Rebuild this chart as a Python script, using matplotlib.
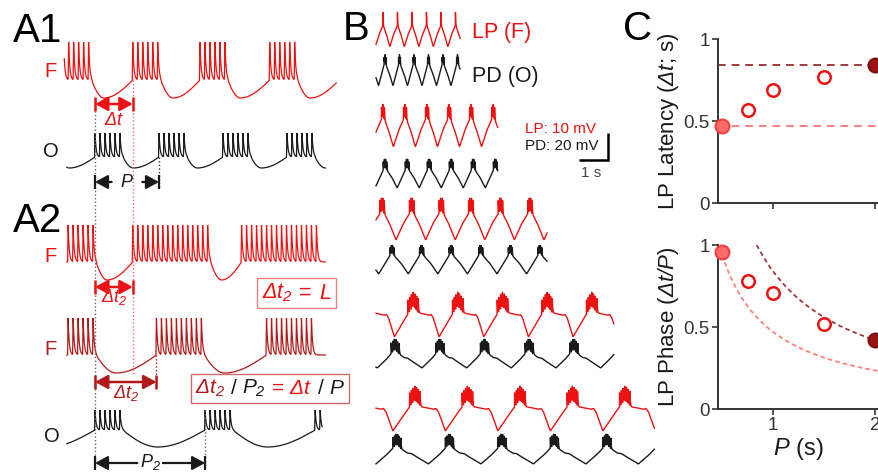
import numpy as np
import matplotlib
matplotlib.use("Agg")
import matplotlib.pyplot as plt
from matplotlib.offsetbox import TextArea, HPacker, AnnotationBbox

# ---------------- data ----------------
# Panel A: schematic bursting traces (seconds, t = 0 at the first O burst of A1)
spike_isi = 0.078
a1_f_onsets = [-0.49, 0.59, 1.64, 2.73, 3.82]
a1_f_counts = [6, 6, 6, 6, 6]
a1_o_onsets = [-1.0, 0.0, 1.0, 2.0, 3.0, 4.0]
a1_o_counts = [6, 6, 6, 6, 6, 6]
a2_f1_onsets = [-0.42, 0.59, 2.29]
a2_f1_counts = [6, 16, 16]
a2_f2_onsets = [-0.42, 0.96, 2.68]
a2_f2_counts = [6, 10, 10]
a2_o_onsets = [-1.72, 0.0, 1.72, 3.44]
a2_o_counts = [6, 6, 6, 2]

# Panel B: LP / PD recordings at five cycle periods (seconds)
b_period = [0.50, 0.76, 1.02, 1.54, 1.81]
b_lp_first = [0.24, 0.24, 0.21, 1.28, 1.34]
b_pd_first = [0.31, 0.31, 0.55, 0.66, 0.72]
b_duration = [2.9, 4.2, 5.9, 8.2, 9.6]
b_lp_spikes = [1, 3, 4, 7, 7]
b_pd_spikes = [3, 4, 4, 6, 6]
b_lp_isi = [0.04, 0.05, 0.05, 0.06, 0.06]
b_pd_isi = [0.03, 0.04, 0.045, 0.055, 0.055]

# one cycle of membrane potential (phase 0 = burst), normalised 0..1
lp_fast_phase = [0.0, 0.06, 0.25, 0.47, 0.72, 1.0]
lp_fast_level = [1.0, 0.90, 0.55, 0.0, 0.55, 1.0]
lp_slow_phase = [0.0, 0.05, 0.12, 0.25, 0.36, 0.40, 0.45, 0.58, 0.80, 1.0]
lp_slow_level = [1.0, 0.92, 0.78, 0.74, 0.70, 0.73, 0.62, 0.0, 0.55, 1.0]
pd_fast_phase = [0.0, 0.08, 0.30, 0.55, 0.78, 1.0]
pd_fast_level = [1.0, 0.82, 0.50, 0.0, 0.50, 1.0]
pd_slow_phase = [0.0, 0.07, 0.20, 0.28, 0.36, 0.48, 0.60, 0.80, 1.0]
pd_slow_level = [1.0, 0.78, 0.55, 0.52, 0.38, 0.20, 0.0, 0.45, 1.0]

# Panel C: LP latency and phase versus period
c_period = [0.5, 0.75, 1.0, 1.5, 2.0]
c_latency = [0.47, 0.57, 0.69, 0.77, 0.84]
c_phase = [0.96, 0.78, 0.71, 0.52, 0.42]

# ---------------- style ----------------
RED = '#ee1111'
DRED = '#b51818'
BLK = '#1a1a1a'
AXC = '#333333'

plt.rcParams['font.family'] = ['Liberation Sans', 'DejaVu Sans']
plt.rcParams['mathtext.fontset'] = 'custom'
plt.rcParams['mathtext.rm'] = 'Liberation Sans:italic'
plt.rcParams['mathtext.it'] = 'Liberation Sans:italic'
plt.rcParams['mathtext.bf'] = 'Liberation Sans:bold'

W, H = 879, 472
fig = plt.figure(figsize=(W / 100, H / 100), dpi=100)


def frac_rect(x0, y0, x1, y1):
    return [x0 / W, 1 - y1 / H, (x1 - x0) / W, (y1 - y0) / H]


def ftext(x, y, s, **kw):
    return fig.text(x / W, 1 - y / H, s, **kw)


def spike_kernel(d, isi):
    rise = 0.1 * isi
    up = np.clip((d + rise) / rise, 0, 1) * (d < 0)
    down = np.exp(-np.clip(d, 0, None) / (0.22 * isi)) * (d >= 0)
    return up + down


def burst_trace(t, onsets, counts, isi, fall):
    """Return (hyperpolarisation well 0..1, spike train 0..1)."""
    well = np.zeros_like(t)
    spk = np.zeros_like(t)
    ends = []
    for on, n in zip(onsets, counts):
        times = on + isi * np.arange(n)
        for s in times:
            spk = np.maximum(spk, spike_kernel(t - s, isi))
        ends.append(times[-1] + 0.5 * isi)
    for e, nxt in zip(ends[:-1], onsets[1:]):
        gap = nxt - e
        m = min(fall / gap, 0.6)
        u = (t - e) / gap
        inside = (u >= 0) & (u <= 1)
        w = np.where(u < m, np.sin(0.5 * np.pi * u / m),
                     np.cos(0.5 * np.pi * (u - m) / (1 - m)))
        well[inside] = w[inside]
    return well, spk


# ================= Panel A =================
A_T0, A_PX = 95.0, 64.0          # pixel column of t=0, pixels per second
axA = fig.add_axes(frac_rect(0, 0, 360, H))
axA.set_xlim(-A_T0 / A_PX, (360 - A_T0) / A_PX)
axA.set_ylim(H, 0)
axA.axis('off')

a_traces = [
    (a1_f_onsets, a1_f_counts, (-0.48, 3.77), (42, 80, 98), 0.20, RED),
    (a1_o_onsets, a1_o_counts, (-0.44, 3.60), (133, 157, 168), 0.17, BLK),
    (a2_f1_onsets, a2_f1_counts, (-0.44, 3.60), (225, 262, 280), 0.18, RED),
    (a2_f2_onsets, a2_f2_counts, (-0.44, 3.60), (318, 355, 373), 0.32, DRED),
    (a2_o_onsets, a2_o_counts, (-0.44, 3.55), (410, 430, 447), 0.55, BLK),
]
for onsets, counts, span, (top, base, trough), fall, col in a_traces:
    t = np.arange(span[0], span[1], 0.001)
    well, spk = burst_trace(t, onsets, counts, spike_isi, fall)
    y = base + (trough - base) * well - (base - top) * spk
    axA.plot(t, y, color=col, lw=0.9, solid_joinstyle='miter')


def dim_arrow(x0, x1, y, color, lw=1.8, bar=7):
    axA.annotate('', xy=(x1, y), xytext=(x0, y),
                 arrowprops=dict(arrowstyle='<|-|>,head_length=0.55,head_width=0.3',
                                 color=color, lw=lw, shrinkA=0, shrinkB=0,
                                 mutation_scale=14))
    axA.vlines([x0, x1], y - bar, y + bar, color=color, lw=lw)


def split_arrow(x0, x1, y, half_gap, color, lw=1.6, bar=7):
    mid = 0.5 * (x0 + x1)
    for xa, xb in ((mid - half_gap, x0), (mid + half_gap, x1)):
        axA.annotate('', xy=(xb, y), xytext=(xa, y),
                     arrowprops=dict(arrowstyle='-|>,head_length=0.55,head_width=0.3',
                                     color=color, lw=lw, shrinkA=0, shrinkB=0,
                                     mutation_scale=14))
    axA.vlines([x0, x1], y - bar, y + bar, color=color, lw=lw)


dots = (0, (1, 1.6))
o_on = a1_o_onsets[1]
# guide lines
axA.vlines(o_on, 100, 467, color='#666666', lw=1.0, linestyles=[dots])
axA.vlines(a1_f_onsets[1], 80, 376, color='#ff6666', lw=1.0, linestyles=[dots])
axA.vlines(a1_o_onsets[2], 157, 188, color='#333333', lw=1.0, linestyles=[dots])
axA.vlines(a2_f2_onsets[1], 355, 383, color=DRED, lw=1.0, linestyles=[dots])
axA.vlines(a2_o_onsets[2], 410, 467, color='#666666', lw=1.0, linestyles=[dots])

# A1 measures
dim_arrow(o_on, a1_f_onsets[1], 104, RED)
axA.text(0.5 * (o_on + a1_f_onsets[1]), 125, r'$Δt$', color=RED, fontsize=13,
         ha='center', va='baseline')
split_arrow(o_on, a1_o_onsets[2], 182, 0.24, BLK)
axA.text(0.5 * (o_on + a1_o_onsets[2]), 187, r'$P$', color=BLK, fontsize=13,
         ha='center', va='baseline')

# A2 measures
dim_arrow(o_on, a2_f1_onsets[1], 287, RED)
axA.text(0.5 * (o_on + a2_f1_onsets[1]), 302, r'$Δt_2$', color=RED, fontsize=13,
         ha='center', va='baseline')
dim_arrow(o_on, a2_f2_onsets[1], 382, DRED)
axA.text(0.5 * (o_on + a2_f2_onsets[1]), 398, r'$Δt_2$', color=DRED, fontsize=13,
         ha='center', va='baseline')
split_arrow(o_on, a2_o_onsets[2], 463, 0.20, BLK)
axA.text(0.5 * (o_on + a2_o_onsets[2]), 467, r'$P_2$', color=BLK, fontsize=13,
         ha='center', va='baseline')


def boxed(parts, xy, edge, size=15.5, sep=5):
    areas = [TextArea(s, textprops=dict(color=c, fontsize=size)) for s, c in parts]
    pack = HPacker(children=areas, align='baseline', pad=0, sep=sep)
    ab = AnnotationBbox(pack, xy, xycoords='data', frameon=True,
                        box_alignment=(0.5, 0.5), pad=0.35,
                        bboxprops=dict(edgecolor=edge, lw=1.0, facecolor='white',
                                       boxstyle='square'))
    axA.add_artist(ab)


boxed([(r'$Δt_2$', RED), ('=', RED), (r'$L$', RED)],
      ((296.5 - A_T0) / A_PX, 293), '#ef8080')
boxed([(r'$Δt_2$', DRED), ('/', BLK), (r'$P_2$', BLK), ('=', RED),
       (r'$Δt$', RED), ('/', BLK), (r'$P$', BLK)],
      ((270 - A_T0) / A_PX, 388.5), '#d06a6a', size=15, sep=4)

# panel A labels
ftext(13, 42, 'A1', fontsize=29, color='black', va='baseline')
ftext(13, 232, 'A2', fontsize=29, color='black', va='baseline')
for x, y, s, c in [(51, 77, 'F', RED), (51, 157, 'O', BLK), (51, 262, 'F', RED),
                   (51, 355, 'F', DRED), (52, 442, 'O', BLK)]:
    ftext(x, y, s, fontsize=14.5, color=c, ha='center', va='baseline')

# ================= Panel B =================
B_X0, B_PX = 376.0, 29.0
axB = fig.add_axes(frac_rect(370, 0, 668, H))
axB.set_xlim((370 - B_X0) / B_PX, (668 - B_X0) / B_PX)
axB.set_ylim(H, 0)
axB.axis('off')

# trace placement: (spike top, wave peak, trough) in figure rows
b_lp_rows = [(12, 25, 47), (104, 116, 147), (197, 210, 240), (292, 306, 337), (386, 400, 431)]
b_pd_rows = [(54, 61, 86), (158, 166, 188), (244, 252, 274), (338, 349, 368), (433, 444, 464)]


def smooth(y, n):
    k = np.ones(n) / n
    return np.convolve(np.pad(y, n, mode='edge'), k, mode='same')[n:-n]


def cell_trace(t, first, period, phases, levels, nspk, isi):
    ph = np.mod((t - first) / period, 1.0)
    wave = smooth(np.interp(ph, phases, levels), 25)
    spk = np.zeros_like(t)
    k0 = int(np.floor((t[0] - first) / period)) - 1
    k1 = int(np.ceil((t[-1] - first) / period)) + 1
    offsets = (np.arange(nspk) - 0.5 * (nspk - 1)) * isi   # burst centred on the peak
    for k in range(k0, k1):
        for off in offsets:
            spk = np.maximum(spk, spike_kernel(t - (first + k * period + off), isi))
    return wave, spk


for i in range(5):
    t = np.arange(0, b_duration[i], 0.001)
    slow = b_period[i] > 1.2
    lp_ph, lp_lv = (lp_slow_phase, lp_slow_level) if slow else (lp_fast_phase, lp_fast_level)
    pd_ph, pd_lv = (pd_slow_phase, pd_slow_level) if slow else (pd_fast_phase, pd_fast_level)
    for first, nspk, (ph, lv), (top, peak, trough), col, isi in [
        (b_lp_first[i], b_lp_spikes[i], (lp_ph, lp_lv), b_lp_rows[i], RED, b_lp_isi[i]),
        (b_pd_first[i], b_pd_spikes[i], (pd_ph, pd_lv), b_pd_rows[i], BLK, b_pd_isi[i]),
    ]:
        wave, spk = cell_trace(t, first, b_period[i], ph, lv, nspk, isi)
        y = trough - (trough - peak) * wave - (peak - top) * spk
        axB.plot(t, y, color=col, lw=1.0)

# scale bar: 1 s horizontal, vertical = 10 mV (LP) / 20 mV (PD)
bar_end = (608 - B_X0) / B_PX
axB.plot([bar_end - 1.0, bar_end, bar_end], [160, 160, 133], color='black', lw=1.8,
         solid_joinstyle='miter', solid_capstyle='butt')
ftext(591, 177, '1 s', fontsize=11, color='#444444', ha='center', va='baseline')
ftext(525, 133, 'LP: 10 mV', fontsize=11, color=RED, va='baseline')
ftext(525, 150, 'PD: 20 mV', fontsize=11, color=BLK, va='baseline')
ftext(472, 38, 'LP (F)', fontsize=15.5, color=RED, va='baseline')
ftext(472, 82, 'PD (O)', fontsize=15.5, color=BLK, va='baseline')
ftext(343, 40, 'B', fontsize=29, color='black', va='baseline')

# ================= Panel C =================
ftext(623, 40, 'C', fontsize=29, color='black', va='baseline')


def style_c(ax):
    for s in ('top', 'right'):
        ax.spines[s].set_visible(False)
    for s in ('left', 'bottom'):
        ax.spines[s].set_color(AXC)
        ax.spines[s].set_linewidth(1.4)
    ax.tick_params(direction='out', length=4, width=1.2, color=AXC,
                   labelcolor=AXC, labelsize=13.5, pad=2)
    ax.set_xlim(0.46, 2.04)
    ax.set_ylim(0, 1)
    ax.set_yticks([0, 0.5, 1])
    ax.set_yticklabels(['0', '0.5', '1'])
    ax.set_xticks([1, 2])
    ax.patch.set_alpha(0)


axC1 = fig.add_axes(frac_rect(718, 39, 879, 203))
axC2 = fig.add_axes(frac_rect(718, 245, 879, 409))
style_c(axC1)
style_c(axC2)
axC1.set_xticklabels([])
axC2.set_xticklabels(['1', '2'])

light_line = '#ff7f7f'
dark_line = '#a33a3a'
axC1.axhline(c_latency[0], color=light_line, lw=1.4, ls=(0, (4, 3)), zorder=1)
axC1.axhline(c_latency[-1], color=dark_line, lw=1.4, ls=(0, (4, 3)), zorder=1)

p1 = np.linspace(c_period[0], 2.04, 200)
axC2.plot(p1, c_latency[0] / p1, color=light_line, lw=1.3, ls=(0, (2.5, 1.8)), zorder=1)
p2 = np.linspace(c_latency[-1], 2.04, 200)
axC2.plot(p2, c_latency[-1] / p2, color=dark_line, lw=1.3, ls=(0, (2.5, 1.8)), zorder=1)

for ax, vals in ((axC1, c_latency), (axC2, c_phase)):
    ax.plot(c_period[1:-1], vals[1:-1], 'o', mfc='none', mec=RED, mew=1.8, ms=9,
            zorder=3)
    ax.plot(c_period[0], vals[0], 'o', mfc='#ff6b6b', mec='#f04040', mew=1.5, ms=10,
            clip_on=False, zorder=4)
    ax.plot(c_period[-1], vals[-1], 'o', mfc='#9c1414', mec='#7a1010', mew=1.5, ms=10,
            clip_on=False, zorder=4)

axC1.set_ylabel(r'LP Latency ($Δt$; s)', fontsize=16, color=BLK, labelpad=2)
axC2.set_ylabel(r'LP Phase ($Δt/P$)', fontsize=16, color=BLK, labelpad=2)
axC2.set_xlabel(r'$P$ (s)', fontsize=17, color=BLK, labelpad=1)

fig.savefig('out.png', dpi=100)
